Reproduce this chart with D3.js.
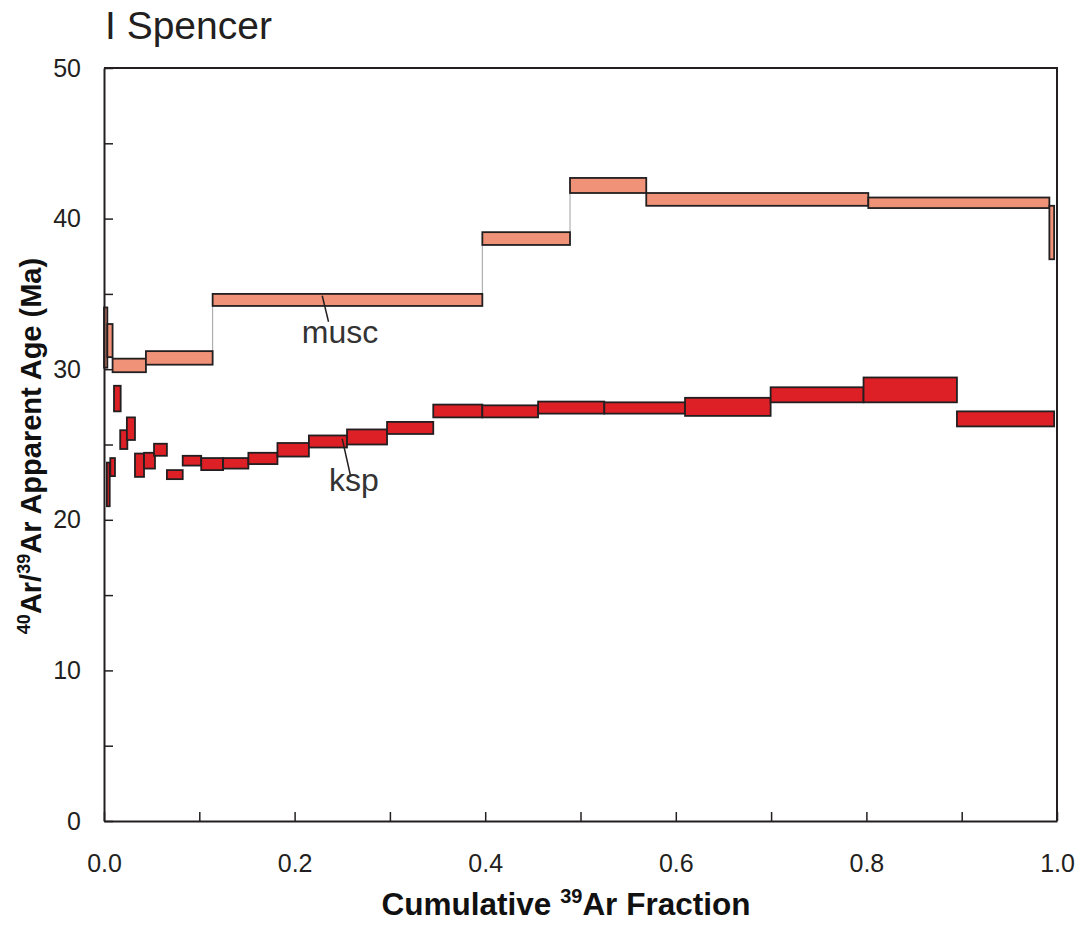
<!DOCTYPE html>
<html>
<head>
<meta charset="utf-8">
<script src="https://cdn.jsdelivr.net/npm/d3@7"></script>
<style>
  body { margin: 0; background: #fff; }
  svg { font-family: "Liberation Sans", Arial, sans-serif; }
  .tick text { font-size: 25px; fill: #231f20; }
</style>
</head>
<body>
<svg id="spectrum" width="1081" height="926"></svg>
<script>
// step data: [cumulative 39Ar start, end, age low, age high] in Ma
const muscSteps = [
  [0.000, 0.0035, 30.1, 34.1],
  [0.0035, 0.009, 30.8, 33.0],
  [0.009, 0.044, 29.8, 30.7],
  [0.044, 0.114, 30.3, 31.2],
  [0.114, 0.397, 34.2, 35.0],
  [0.397, 0.489, 38.25, 39.1],
  [0.489, 0.569, 41.7, 42.7],
  [0.569, 0.802, 40.85, 41.7],
  [0.802, 0.992, 40.7, 41.4],
  [0.992, 0.997, 37.3, 40.85]
];

const kspSteps = [
  [0.003, 0.006, 20.9, 23.8],
  [0.0066, 0.0115, 22.9, 24.1],
  [0.0105, 0.0175, 27.2, 28.9],
  [0.017, 0.0245, 24.7, 25.95],
  [0.024, 0.0325, 25.3, 26.8],
  [0.0325, 0.042, 22.85, 24.4],
  [0.042, 0.0535, 23.4, 24.45],
  [0.0525, 0.066, 24.25, 25.05],
  [0.066, 0.0826, 22.7, 23.3],
  [0.0826, 0.102, 23.6, 24.25],
  [0.102, 0.125, 23.3, 24.1],
  [0.125, 0.1515, 23.4, 24.1],
  [0.1515, 0.182, 23.7, 24.45],
  [0.182, 0.215, 24.2, 25.1],
  [0.215, 0.255, 24.8, 25.6],
  [0.255, 0.297, 25.0, 26.0],
  [0.297, 0.3455, 25.7, 26.5],
  [0.3455, 0.397, 26.8, 27.65],
  [0.397, 0.4555, 26.8, 27.6],
  [0.4555, 0.525, 27.05, 27.85],
  [0.525, 0.6097, 27.05, 27.8],
  [0.6097, 0.6995, 26.9, 28.1],
  [0.6995, 0.797, 27.8, 28.8],
  [0.797, 0.895, 27.8, 29.45],
  [0.895, 0.997, 26.2, 27.2]
];

const xTicks = [0, 0.1, 0.2, 0.3, 0.4, 0.5, 0.6, 0.7, 0.8, 0.9, 1.0];
const xTickLabels = ["0.0", "", "0.2", "", "0.4", "", "0.6", "", "0.8", "", "1.0"];
const yTicks = [0, 5, 10, 15, 20, 25, 30, 35, 40, 45, 50];
const yTickLabels = ["0", "", "10", "", "20", "", "30", "", "40", "", "50"];

// labels: [text, text x, text baseline age, leader x1, y1, x2, y2]
const seriesLabels = [
  ["musc", 0.2476, 31.72, 0.229, 34.88, 0.2356, 33.15],
  ["ksp", 0.2623, 21.91, 0.250, 25.37, 0.2589, 22.86]
];

const margin = { left: 104, right: 24, top: 68, bottom: 105 };
const W = 1081, H = 926;

const svg = d3.select('svg#spectrum');

const x = d3.scaleLinear().domain([0, 1]).range([margin.left, W - margin.right]);
const y = d3.scaleLinear().domain([0, 50]).range([H - margin.bottom, margin.top]);

// title
svg.append('text')
  .attr('x', 105)
  .attr('y', 39)
  .attr('font-size', 39)
  .attr('fill', '#231f20')
  .text('I Spencer');

// grey connectors between musc steps that don't overlap
const connectors = [];
for (let i = 0; i < muscSteps.length - 1; i++) {
  const a = muscSteps[i], b = muscSteps[i + 1];
  if (b[2] > a[3]) connectors.push([a[1], a[3], b[2]]);
  else if (b[3] < a[2]) connectors.push([a[1], b[3], a[2]]);
}
svg.append('g').selectAll('line')
  .data(connectors)
  .enter()
  .append('line')
  .attr('x1', d => x(d[0]))
  .attr('x2', d => x(d[0]))
  .attr('y1', d => y(d[1]))
  .attr('y2', d => y(d[2]))
  .attr('stroke', '#a0a0a0')
  .attr('stroke-width', 1);

function drawSteps(data, fill) {
  svg.append('g').selectAll('rect')
    .data(data)
    .enter()
    .append('rect')
    .attr('x', d => x(d[0]))
    .attr('width', d => x(d[1]) - x(d[0]))
    .attr('y', d => y(d[3]))
    .attr('height', d => y(d[2]) - y(d[3]))
    .attr('fill', fill)
    .attr('stroke', '#231f20')
    .attr('stroke-width', 1.8);
}
drawSteps(muscSteps, '#ef9277');
drawSteps(kspSteps, '#dd1f26');

// labels with leader lines
const lab = svg.append('g');
lab.selectAll('line')
  .data(seriesLabels)
  .enter()
  .append('line')
  .attr('x1', d => x(d[3])).attr('y1', d => y(d[4]))
  .attr('x2', d => x(d[5])).attr('y2', d => y(d[6]))
  .attr('stroke', '#231f20')
  .attr('stroke-width', 1.5);
lab.selectAll('text')
  .data(seriesLabels)
  .enter()
  .append('text')
  .attr('x', d => x(d[1]))
  .attr('y', d => y(d[2]))
  .attr('text-anchor', 'middle')
  .attr('font-size', 32)
  .attr('fill', '#333')
  .text(d => d[0]);

// axes
const xAxis = d3.axisBottom(x)
  .tickValues(xTicks)
  .tickFormat((d, i) => xTickLabels[i])
  .tickSizeInner(-9)
  .tickSizeOuter(0)
  .tickPadding(33);
const yAxis = d3.axisLeft(y)
  .tickValues(yTicks)
  .tickFormat((d, i) => yTickLabels[i])
  .tickSizeInner(-9)
  .tickSizeOuter(0)
  .tickPadding(23);

const xAxisG = svg.append('g')
  .attr('transform', `translate(0,${y(0)})`)
  .call(xAxis);
const yAxisG = svg.append('g')
  .attr('transform', `translate(${x(0)},0)`)
  .call(yAxis);
[xAxisG, yAxisG].forEach(g => {
  g.select('.domain').attr('stroke', '#231f20').attr('stroke-width', 2);
  g.selectAll('.tick line').attr('stroke', '#231f20').attr('stroke-width', 1.5);
  g.attr('font-family', null).attr('font-size', null);
});

// frame top and right
svg.append('path')
  .attr('d', `M${x(0)},${y(50)}H${x(1)}V${y(0)}`)
  .attr('fill', 'none')
  .attr('stroke', '#231f20')
  .attr('stroke-width', 2);

// axis titles
const xt = svg.append('text')
  .attr('x', 566)
  .attr('y', 915)
  .attr('text-anchor', 'middle')
  .attr('font-size', 31.5)
  .attr('font-weight', 'bold')
  .attr('fill', '#111');
xt.append('tspan').text('Cumulative ');
xt.append('tspan').attr('font-size', 20).attr('dy', -12).text('39');
xt.append('tspan').attr('dy', 12).text('Ar Fraction');

const yt = svg.append('text')
  .attr('transform', 'rotate(-90)')
  .attr('x', -446)
  .attr('y', 41)
  .attr('text-anchor', 'middle')
  .attr('font-size', 29)
  .attr('font-weight', 'bold')
  .attr('fill', '#111');
yt.append('tspan').attr('font-size', 18).attr('dy', -11).text('40');
yt.append('tspan').attr('dy', 11).text('Ar/');
yt.append('tspan').attr('font-size', 18).attr('dy', -11).text('39');
yt.append('tspan').attr('dy', 11).text('Ar Apparent Age (Ma)');
</script>
</body>
</html>
